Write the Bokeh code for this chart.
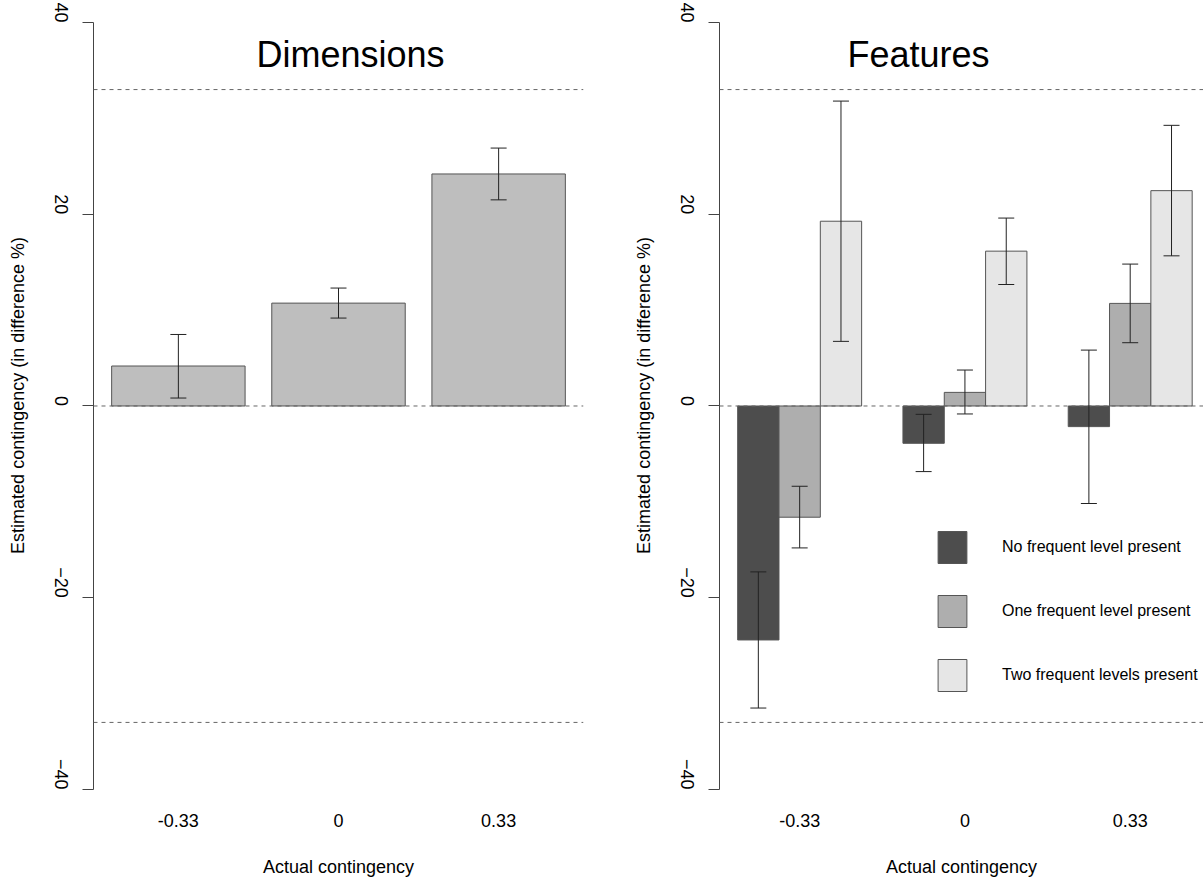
import math
from bokeh.plotting import figure
from bokeh.models import (Range1d, FixedTicker, Span, Whisker, TeeHead,
                          ColumnDataSource, Label, Legend, LegendItem)
from bokeh.layouts import row
from bokeh.embed import file_html
from bokeh.resources import INLINE

# ---------------- data ----------------
categories = ["-0.33", "0", "0.33"]

dim_mean = [4.17, 10.73, 24.2]
dim_lower = [0.83, 9.17, 21.5]
dim_upper = [7.46, 12.3, 26.9]

series_names = ["No frequent level present",
                "One frequent level present",
                "Two frequent levels present"]
no_freq_mean = [-24.4, -3.89, -2.15]
no_freq_lower = [-31.5, -6.84, -10.17]
no_freq_upper = [-17.3, -0.87, 5.83]
one_freq_mean = [-11.6, 1.42, 10.7]
one_freq_lower = [-14.8, -0.83, 6.6]
one_freq_upper = [-8.37, 3.75, 14.8]
two_freq_mean = [19.27, 16.15, 22.46]
two_freq_lower = [6.74, 12.67, 15.66]
two_freq_upper = [31.8, 19.6, 29.27]

y_ticks = [-40, -20, 0, 20, 40]
reference_lines = [-33, 0, 33]

# ---------------- style ----------------
FONT = "Liberation Sans"
AX = "#444444"
BAR_LINE = "#555555"
ERR = "#222222"
DIM_COLOR = "#BEBEBE"
SERIES_COLORS = ["#4D4D4D", "#AEAEAE", "#E6E6E6"]
H = 879
Y_RANGE = (-40.1, 42.29)


def style(p):
    p.outline_line_color = None
    p.xgrid.visible = False
    p.ygrid.visible = False
    p.background_fill_color = "white"
    p.border_fill_color = "white"

    yax = p.yaxis[0]
    yax.ticker = FixedTicker(ticks=y_ticks)
    yax.bounds = (min(y_ticks), max(y_ticks))
    yax.major_tick_out = 11
    yax.major_tick_in = 0
    yax.minor_tick_line_color = None
    yax.axis_line_color = AX
    yax.major_tick_line_color = AX
    yax.major_label_orientation = -math.pi / 2
    yax.major_label_standoff = 21
    yax.major_label_text_font = FONT
    yax.major_label_text_font_size = "18px"
    yax.major_label_text_color = "black"
    yax.axis_label = "Estimated contingency (in difference %)"
    yax.axis_label_text_font = FONT
    yax.axis_label_text_font_style = "normal"
    yax.axis_label_text_font_size = "18px"
    yax.axis_label_text_color = "black"
    yax.axis_label_standoff = 18

    xax = p.xaxis[0]
    xax.ticker = FixedTicker(ticks=list(range(len(categories))))
    xax.major_label_overrides = {i: c for i, c in enumerate(categories)}
    xax.axis_line_color = None
    xax.major_tick_line_color = None
    xax.minor_tick_line_color = None
    xax.major_tick_out = 0
    xax.major_tick_in = 0
    xax.major_label_standoff = 23
    xax.major_label_text_font = FONT
    xax.major_label_text_font_size = "18px"
    xax.major_label_text_color = "black"
    xax.axis_label = "Actual contingency"
    xax.axis_label_text_font = FONT
    xax.axis_label_text_font_style = "normal"
    xax.axis_label_text_font_size = "18px"
    xax.axis_label_text_color = "black"
    xax.axis_label_standoff = 27

    for lvl in reference_lines:
        p.add_layout(Span(location=lvl, dimension="width", line_color="#666666",
                          line_width=1, line_dash="4 4"))


def whisker(p, xs, lower, upper):
    src = ColumnDataSource(dict(x=xs, lower=lower, upper=upper))
    w = Whisker(source=src, base="x", lower="lower", upper="upper",
                dimension="height", line_color=ERR, line_width=1,
                level="annotation",
                upper_head=TeeHead(size=16, line_color=ERR, line_width=1),
                lower_head=TeeHead(size=16, line_color=ERR, line_width=1))
    p.add_layout(w)


# ---------------- left: Dimensions ----------------
left = figure(width=600, height=H, output_backend="svg", toolbar_location=None,
              x_range=Range1d(-0.53, 2.53), y_range=Range1d(*Y_RANGE),
              min_border_left=93, min_border_right=17, min_border_top=0,
              min_border_bottom=88)
style(left)
idx = list(range(len(categories)))
left.vbar(x=idx, top=dim_mean, bottom=0, width=1 / 1.2,
          fill_color=DIM_COLOR, line_color=BAR_LINE, line_width=1)
whisker(left, idx, dim_lower, dim_upper)
left.add_layout(Label(x=1.075, y=36.67, text="Dimensions", text_align="center",
                      text_baseline="alphabetic", text_font=FONT,
                      text_font_size="36px", text_color="black"))

# ---------------- right: Features ----------------
right = figure(width=603, height=H, output_backend="svg", toolbar_location=None,
               x_range=Range1d(-0.485, 2.4435), y_range=Range1d(*Y_RANGE),
               min_border_left=119, min_border_right=0, min_border_top=0,
               min_border_bottom=88)
style(right)
series = [(no_freq_mean, no_freq_lower, no_freq_upper),
          (one_freq_mean, one_freq_lower, one_freq_upper),
          (two_freq_mean, two_freq_lower, two_freq_upper)]
bw = 0.25
items = []
for j, ((m, lo, up), name, col) in enumerate(zip(series, series_names, SERIES_COLORS)):
    xs = [i + (j - 1) * bw for i in idx]
    r = right.vbar(x=xs, top=m, bottom=0, width=bw, fill_color=col,
                   line_color=BAR_LINE, line_width=1)
    items.append(LegendItem(label=name, renderers=[r]))
for j, (m, lo, up) in enumerate(series):
    xs = [i + (j - 1) * bw for i in idx]
    whisker(right, xs, lo, up)

legend = Legend(items=items, location=(215, 95), glyph_width=36, glyph_height=40,
                label_standoff=32, spacing=24, padding=0, margin=0,
                border_line_color=None, background_fill_alpha=0,
                label_text_font=FONT, label_text_font_size="16px",
                label_text_color="black")
right.add_layout(legend)
right.add_layout(Label(x=0.719, y=36.67, text="Features", text_align="center",
                       text_baseline="alphabetic", text_font=FONT,
                       text_font_size="36px", text_color="black"))

layout = row(left, right)
open("out.html", "w").write(file_html(layout, INLINE))
